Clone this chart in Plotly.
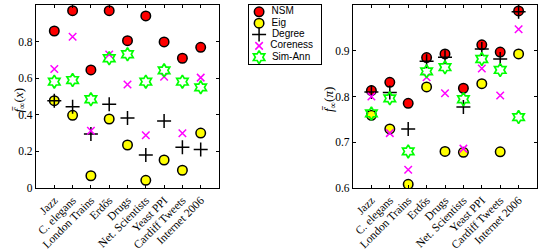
import plotly.graph_objects as go

categories = ["Jazz", "C. elegans", "London Trains", "Erdős", "Drugs",
              "Net. Scientists", "Yeast PPI", "Cardiff Tweets", "Internet 2006"]

# Left panel: f_inf(x)
left_nsm = [0.858, 0.969, 0.645, 0.969, 0.805, 0.940, 0.798, 0.709, 0.769]
left_eig = [0.477, 0.397, 0.067, 0.377, 0.235, 0.042, 0.153, 0.097, 0.300]
left_deg = [0.477, 0.444, 0.295, 0.457, 0.383, 0.180, 0.366, 0.222, 0.210]
left_core = [0.650, 0.827, 0.313, 0.730, 0.566, 0.288, 0.608, 0.299, 0.603]
left_sa = [0.581, 0.590, 0.485, 0.709, 0.731, 0.581, 0.643, 0.581, 0.550]

# Right panel: f_inf(pi)
right_nsm = [0.813, 0.831, 0.785, 0.885, 0.893, 0.818, 0.913, 0.897, 0.987]
right_eig = [0.759, 0.729, 0.608, 0.821, 0.680, 0.678, 0.828, 0.679, 0.893]
right_deg = [0.810, 0.809, 0.729, 0.877, 0.886, 0.777, 0.904, 0.882, 0.985]
right_core = [0.800, 0.720, 0.640, 0.842, 0.807, 0.686, 0.861, 0.802, 0.947]
right_sa = [0.763, 0.796, 0.680, 0.855, 0.864, 0.794, 0.882, 0.858, 0.755]

left_ticks = [0, 0.2, 0.4, 0.6, 0.8, 1]
right_ticks = [0.6, 0.7, 0.8, 0.9, 1]

series_names = ["NSM", "Eig", "Degree", "Coreness", "Sim-Ann"]

styles = {
    "NSM": dict(symbol="circle", size=9.5, color="#ff0000", line=dict(color="black", width=1.5)),
    "Eig": dict(symbol="circle", size=9.5, color="#ffff00", line=dict(color="black", width=1.5)),
    "Degree": dict(symbol="cross-thin", size=10, color="black", line=dict(color="black", width=1.5)),
    "Coreness": dict(symbol="x-thin", size=7.5, color="#ff00ff", line=dict(color="#ff00ff", width=1.5)),
    "Sim-Ann": dict(symbol="hexagram-open", size=10, color="#00ff00", line=dict(color="#00ff00", width=1.7)),
}

xidx = list(range(len(categories)))
fig = go.Figure()
left = [left_nsm, left_eig, left_deg, left_core, left_sa]
right = [right_nsm, right_eig, right_deg, right_core, right_sa]
for name, lv in zip(series_names, left):
    fig.add_trace(go.Scatter(x=xidx, y=lv, mode="markers", name=name,
                             marker=styles[name], xaxis="x", yaxis="y", showlegend=False))
for name, rv in zip(series_names, right):
    fig.add_trace(go.Scatter(x=xidx, y=rv, mode="markers", name=name,
                             marker=styles[name], xaxis="x2", yaxis="y2", showlegend=False))

# custom compact legend drawn in its own small axis
for i, name in enumerate(series_names):
    fig.add_trace(go.Scatter(x=[1.4], y=[i], mode="markers+text", name=name,
                             marker=styles[name], text=["  " + name], textposition="middle right",
                             textfont=dict(family="Liberation Sans", size=10, color="black"),
                             xaxis="x3", yaxis="y3", showlegend=False, cliponaxis=False))

serif = "Liberation Serif"
axis_common = dict(showline=True, linecolor="black", linewidth=1.3, mirror="ticks",
                   ticks="inside", ticklen=3, tickcolor="black", tickwidth=1,
                   showgrid=False, zeroline=False, automargin=False)
xfont = dict(family=serif, size=11.5, color="black")
yfont = dict(family=serif, size=11.5, color="black")

fig.update_layout(
    width=538, height=249,
    margin=dict(l=0, r=0, t=0, b=0),
    paper_bgcolor="white", plot_bgcolor="white",
    xaxis=dict(domain=[36/538, 219/538], range=[-1, 9], tickmode="array", tickfont=xfont,
               tickvals=xidx, ticktext=categories, tickangle=-45, anchor="y", **axis_common),
    yaxis=dict(domain=[1-188/249, 1-5/249], range=[0, 1], tickmode="array", tickfont=yfont,
               tickvals=left_ticks, ticktext=[f"{t:g}" for t in left_ticks], anchor="x", **axis_common),
    xaxis2=dict(domain=[353/538, 537/538], range=[-1, 9], tickmode="array", tickfont=xfont,
                tickvals=xidx, ticktext=categories, tickangle=-45, anchor="y2", **axis_common),
    yaxis2=dict(domain=[1-188/249, 1-5/249], range=[0.6, 1], tickmode="array", tickfont=yfont,
                tickvals=right_ticks, ticktext=[f"{t:g}" for t in right_ticks], anchor="x2", **axis_common),
    xaxis3=dict(domain=[249/538, 321/538], range=[0, 10], showline=True, mirror=True,
                linecolor="black", linewidth=1, showticklabels=False, ticks="",
                showgrid=False, zeroline=False, anchor="y3", fixedrange=True),
    yaxis3=dict(domain=[1-64/249, 1-5/249], range=[4.6, -0.6], showline=True, mirror=True,
                linecolor="black", linewidth=1, showticklabels=False, ticks="",
                showgrid=False, zeroline=False, anchor="x3", fixedrange=True),
    showlegend=False,
    annotations=[
        dict(text="<i>f̄</i><sub>∞</sub>(<i>x</i>)", x=8/538, y=1-100/249, xref="paper", yref="paper",
             textangle=-90, showarrow=False, font=dict(family=serif, size=13, color="black")),
        dict(text="<i>f̄</i><sub>∞</sub>(<i>π</i>)", x=329/538, y=1-100/249, xref="paper", yref="paper",
             textangle=-90, showarrow=False, font=dict(family=serif, size=13, color="black")),
    ],
)

fig.write_html("out.html", config={"displayModeBar": False},
               post_script="document.body.style.margin='0px';document.body.style.overflow='hidden';")
